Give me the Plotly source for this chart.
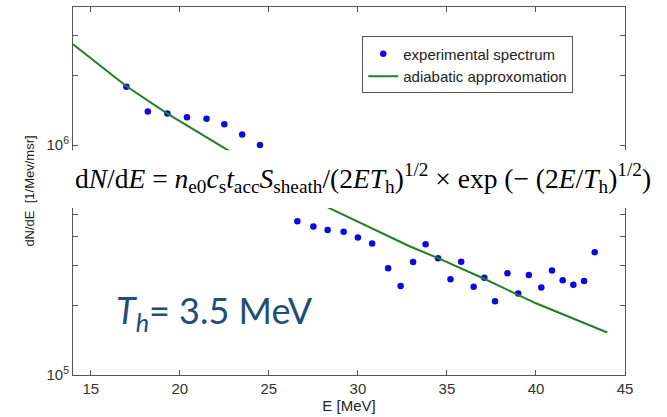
import plotly.graph_objects as go

# experimental spectrum
exp_E = [17.0, 18.2, 19.3, 20.4, 21.5, 22.5, 23.5, 24.5,
         26.6, 27.5, 28.3, 29.2, 30.0, 30.8, 31.7, 32.4, 33.1, 33.8,
         34.5, 35.2, 35.8, 36.5, 37.1, 37.7, 38.4, 39.0, 39.6, 40.3,
         40.9, 41.5, 42.1, 42.7, 43.3]
exp_dNdE = [1.79e6, 1.40e6, 1.37e6, 1.32e6, 1.30e6, 1.23e6, 1.11e6, 1.00e6,
            4.66e5, 4.42e5, 4.27e5, 4.20e5, 3.96e5, 3.73e5, 2.91e5, 2.44e5, 3.10e5, 3.70e5,
            3.22e5, 2.61e5, 3.11e5, 2.42e5, 2.65e5, 2.09e5, 2.77e5, 2.26e5, 2.72e5, 2.40e5,
            2.85e5, 2.58e5, 2.47e5, 2.56e5, 3.42e5]

# adiabatic approximation curve
fit_E = [14.0, 17.0, 19.3, 22.6, 28.4, 30.0, 32.9, 34.5, 37.0, 40.0, 44.0]
fit_dNdE = [2.74e6, 1.80e6, 1.37e6, 9.6e5, 5.31e5, 4.63e5, 3.63e5, 3.22e5, 2.64e5, 2.05e5, 1.53e5]

x_ticks = [15, 20, 25, 30, 35, 40, 45]
y_ticks = [1e5, 2e5, 3e5, 4e5, 5e5, 6e5, 7e5, 8e5, 9e5, 1e6, 2e6, 3e6, 4e6]
y_ticktext = ["10<sup>5</sup>", "", "", "", "", "", "", "", "", "10<sup>6</sup>", "", "", ""]

fig = go.Figure()
fig.add_trace(go.Scatter(x=exp_E, y=exp_dNdE, mode="markers",
                         name="experimental spectrum",
                         marker=dict(color="#0a0ae0", size=6.5)))
fig.add_trace(go.Scatter(x=fit_E, y=fit_dNdE, mode="lines",
                         name="adiabatic approxomation",
                         line=dict(color="#237f23", width=2)))

axis_common = dict(showline=True, linecolor="#555", linewidth=1, mirror="ticks",
                   ticks="inside", ticklen=5, tickcolor="#555", showgrid=False,
                   zeroline=False, tickfont=dict(family="Liberation Sans", size=15, color="#333"))

fig.update_layout(
    width=667, height=417,
    margin=dict(l=73, r=42, t=7, b=42),
    paper_bgcolor="white", plot_bgcolor="white",
    showlegend=True,
    legend=dict(x=0.524, y=0.92, xanchor="left", yanchor="top",
                bgcolor="white", bordercolor="#555", borderwidth=1,
                font=dict(family="Liberation Sans", size=15, color="#222"),
                tracegroupgap=0, itemwidth=30),
    xaxis=dict(range=[14, 45], tickvals=x_ticks,
               title=dict(text="E [MeV]", standoff=2,
                          font=dict(family="Liberation Sans", size=15, color="#222")),
               **axis_common),
    yaxis=dict(type="log", range=[5, 6.6], tickvals=y_ticks, ticktext=y_ticktext,
               title=dict(text="dN/dE  [1/Mev/msr]", standoff=8,
                          font=dict(family="Liberation Sans", size=13, color="#222")),
               **axis_common),
)

# white band with the formula
fig.add_shape(type="rect", xref="paper", yref="paper",
              x0=-0.033, x1=1.08, y0=0.454, y1=0.611,
              fillcolor="white", line=dict(width=0), layer="above")
fig.add_annotation(
    xref="paper", yref="paper", x=0.0, y=0.535, xanchor="left", yanchor="middle",
    showarrow=False,
    text="d<i>N</i>/d<i>E</i> = <i>n</i><sub>e0</sub><i>c</i><sub>s</sub><i>t</i><sub>acc</sub>"
         "<i>S</i><sub>sheath</sub>/(2<i>ET</i><sub>h</sub>)<sup>1/2</sup> × exp (− (2<i>E</i>/<i>T</i><sub>h</sub>)<sup>1/2</sup>)",
    font=dict(family="Liberation Serif", size=27.5, color="black"))

fig.add_annotation(
    xref="paper", yref="paper", x=0.074, y=0.17, xanchor="left", yanchor="middle",
    showarrow=False,
    text="<i>T</i><sub><i>h</i></sub>= 3.5 MeV",
    font=dict(family="Lato", size=36, color="#1f4e79"))

fig.write_html("out.html")
